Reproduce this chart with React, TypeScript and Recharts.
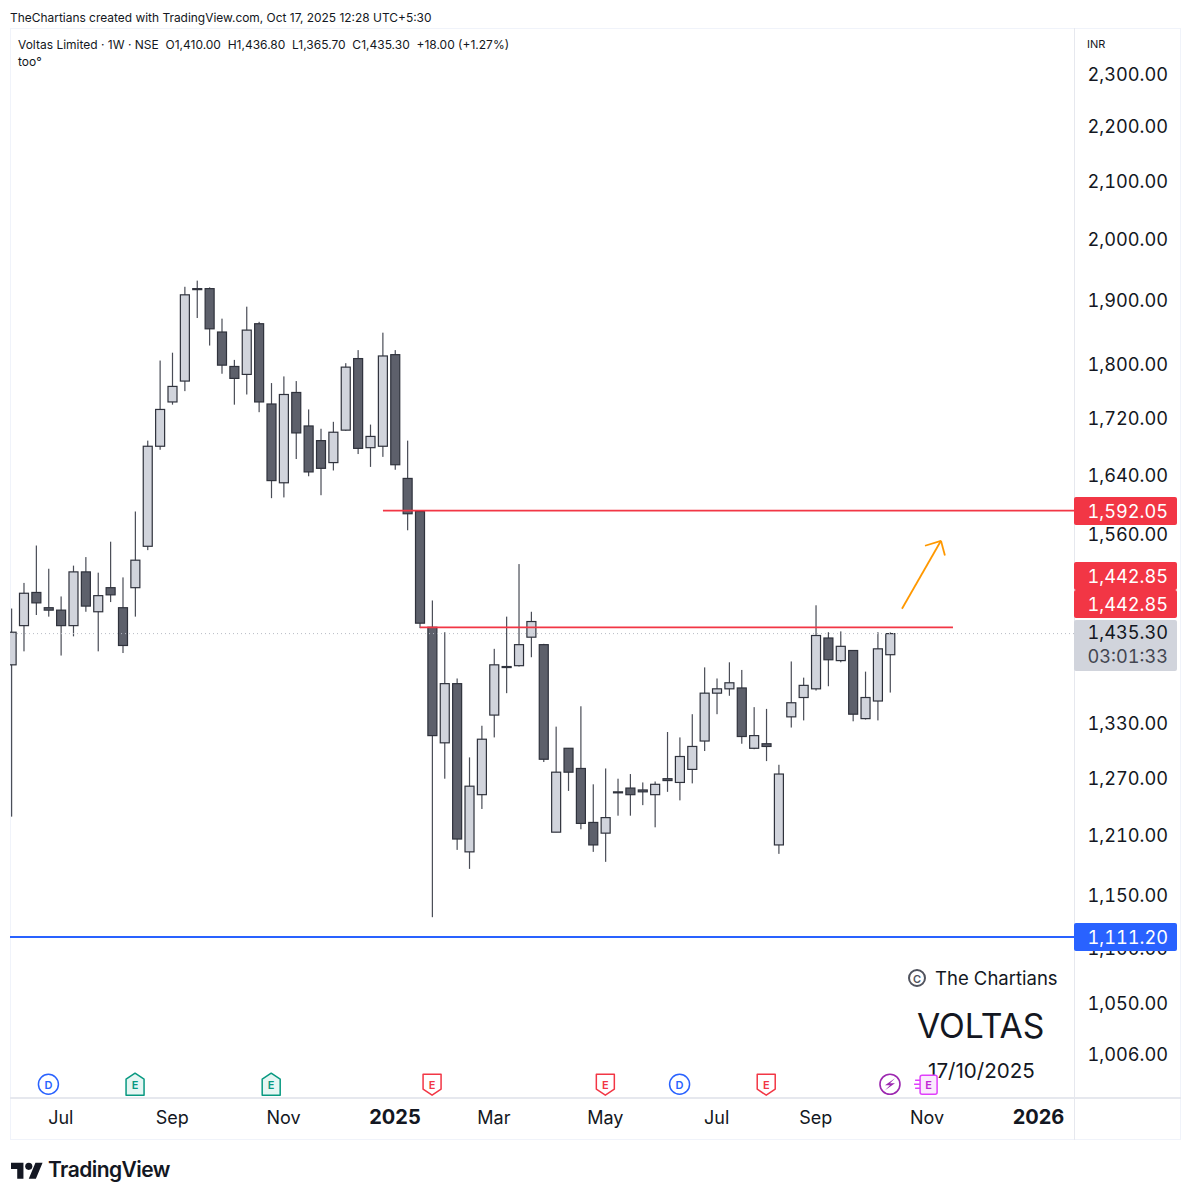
import { Bar, ComposedChart, ReferenceDot, ReferenceLine, XAxis, YAxis } from 'recharts'

// weekly OHLC, oldest first
const opens = [1398, 1445, 1486, 1467, 1464, 1445, 1512, 1462, 1492, 1467, 1492, 1545, 1681, 1745, 1776, 1919, 1920, 1851, 1798, 1786, 1864, 1742, 1630, 1759, 1710, 1689, 1658, 1704, 1810, 1679, 1681, 1816, 1636, 1591, 1443, 1309, 1376, 1194, 1253, 1340, 1396, 1397, 1431, 1422, 1214, 1303, 1281, 1224, 1213, 1255, 1260, 1258, 1253, 1270, 1266, 1280, 1311, 1365, 1370, 1371, 1303, 1308, 1201, 1338, 1360, 1370, 1430, 1403, 1415, 1336, 1356, 1410]
const highs = [1466, 1498, 1546, 1516, 1481, 1520, 1531, 1511, 1551, 1505, 1591, 1689, 1807, 1819, 1923, 1933, 1922, 1872, 1808, 1891, 1867, 1773, 1783, 1776, 1734, 1706, 1716, 1803, 1823, 1712, 1850, 1823, 1689, 1592, 1476, 1437, 1382, 1293, 1328, 1417, 1456, 1522, 1462, 1423, 1327, 1303, 1350, 1264, 1281, 1270, 1275, 1266, 1267, 1321, 1315, 1341, 1395, 1382, 1401, 1392, 1349, 1347, 1285, 1402, 1383, 1470, 1437, 1438, 1415, 1390, 1437, 1436.8]
const lows = [1230, 1414, 1458, 1456, 1409, 1432, 1462, 1414, 1474, 1412, 1456, 1540, 1676, 1741, 1761, 1873, 1830, 1787, 1741, 1756, 1730, 1609, 1610, 1663, 1639, 1613, 1647, 1703, 1670, 1652, 1666, 1648, 1566, 1442, 1130, 1270, 1196, 1177, 1238, 1315, 1365, 1396, 1407, 1288, 1214, 1257, 1217, 1194, 1184, 1231, 1231, 1242, 1219, 1256, 1247, 1265, 1300, 1341, 1362, 1308, 1302, 1289, 1192, 1326, 1334, 1368, 1373, 1401, 1333, 1335, 1334, 1365.7]
const closes = [1437, 1485, 1473, 1464, 1445, 1512, 1469, 1482, 1483, 1421, 1527, 1681, 1734, 1768, 1910, 1920, 1856, 1800, 1780, 1854, 1745, 1633, 1756, 1700, 1645, 1650, 1701, 1797, 1678, 1695, 1814, 1655, 1588, 1448, 1317, 1376, 1207, 1262, 1313, 1398, 1395, 1422, 1450, 1291, 1277, 1277, 1223, 1201, 1229, 1256, 1253, 1256, 1264, 1268, 1294, 1305, 1365, 1370, 1377, 1316, 1317, 1305, 1275, 1354, 1374, 1433, 1404, 1420, 1341, 1360, 1417, 1435.3]

const priceTicks = [2300, 2200, 2100, 2000, 1900, 1800, 1720, 1640, 1560, 1330, 1270, 1210, 1150, 1100, 1050, 1006]
const timeTicks = [4, 13, 22, 31, 39, 48, 57, 65, 74, 83]
const timeLabels = ['Jul', 'Sep', 'Nov', '2025', 'Mar', 'May', 'Jul', 'Sep', 'Nov', '2026']

const eventBars = [3, 10, 21, 34, 48, 54, 61, 71, 74]
const eventKinds = ['div', 'earnGood', 'earnGood', 'earnBad', 'earnBad', 'div', 'earnBad', 'flash', 'earnNext']

const arrowLegs = [
  [71.97, 1465.7, 75.12, 1552.2],
  [73.83, 1545.7, 75.12, 1552.2],
  [75.44, 1533.1, 75.12, 1552.2],
]

const candles = opens.map((open, i) => ({
  bar: i,
  open,
  close: closes[i],
  wick: [lows[i], highs[i]],
  body: [Math.min(open, closes[i]), Math.max(open, closes[i])],
}))

const FONT = 'Inter, "Noto Sans", sans-serif'
const TABULAR = { fontVariantNumeric: 'tabular-nums' }
const SCALE_FONT = 18.2
const X_MAX = 85.87

const WickShape = (props: any) => {
  const { x, y, width, height } = props
  return <rect x={x + width / 2 - 0.6} y={y} width={1.2} height={height} fill="#4a4d57" />
}

const BodyShape = (props: any) => {
  const { x, y, width, height, payload } = props
  const up = payload.close >= payload.open
  return (
    <rect
      x={x}
      y={y}
      width={width}
      height={Math.max(height, 1)}
      fill={up ? '#d1d4dc' : '#5d606b'}
      stroke="#2f323c"
      strokeWidth={1.2}
    />
  )
}

const PriceTick = (props: any) => (
  <text
    x={1168}
    y={props.y - 1}
    textAnchor="end"
    dominantBaseline="central"
    fontFamily={FONT}
    fontSize={SCALE_FONT}
    fill="#131722"
    style={TABULAR}
  >
    {props.payload.value.toLocaleString('en-US', { minimumFractionDigits: 2 })}
  </text>
)

const TimeTick = (props: any) => {
  const label = timeLabels[timeTicks.indexOf(props.payload.value)]
  const isYear = label.length === 4
  return (
    <text
      x={props.x}
      y={1117}
      textAnchor="middle"
      dominantBaseline="central"
      fontFamily={FONT}
      fontSize={isYear ? 20 : 18}
      fontWeight={isYear ? 700 : 400}
      fill="#131722"
    >
      {label}
    </text>
  )
}

const EventBadge = ({ cx, cy, kind }: any) => {
  const letter = (text: string, color: string) => (
    <text x={cx} y={cy + 0.5} textAnchor="middle" dominantBaseline="central" fontFamily={FONT} fontSize={11} fontWeight={600} fill={color}>
      {text}
    </text>
  )
  if (kind === 'div') {
    return (
      <g>
        <circle cx={cx} cy={cy} r={10} fill="#fff" stroke="#2962ff" strokeWidth={1.5} />
        {letter('D', '#2962ff')}
      </g>
    )
  }
  if (kind === 'flash') {
    return (
      <g>
        <circle cx={cx} cy={cy} r={10} fill="#fff" stroke="#9c27b0" strokeWidth={1.6} />
        <path d={`M${cx + 5} ${cy - 6} L${cx - 5} ${cy + 1} H${cx} L${cx - 5} ${cy + 6} L${cx + 5} ${cy - 1} H${cx} Z`} fill="#9c27b0" />
      </g>
    )
  }
  if (kind === 'earnGood') {
    const d = `M${cx - 9} ${cy + 11} V${cy - 5} L${cx} ${cy - 11} L${cx + 9} ${cy - 5} V${cy + 11} Z`
    return (
      <g>
        <path d={d} fill="#e6f6f3" stroke="#089981" strokeWidth={1.5} strokeLinejoin="round" />
        {letter('E', '#089981')}
      </g>
    )
  }
  if (kind === 'earnBad') {
    const d = `M${cx - 9} ${cy - 10} H${cx + 9} V${cy + 5} L${cx} ${cy + 11} L${cx - 9} ${cy + 5} Z`
    return (
      <g>
        <path d={d} fill="#fff" stroke="#f23645" strokeWidth={1.5} strokeLinejoin="round" />
        {letter('E', '#f23645')}
      </g>
    )
  }
  return (
    <g>
      <rect x={cx - 7} y={cy - 9} width={17} height={19} rx={2} fill="#fbeafd" stroke="#e040fb" strokeWidth={1.5} />
      <path d={`M${cx - 12} ${cy - 4} H${cx - 7} M${cx - 13} ${cy} H${cx - 7} M${cx - 12} ${cy + 4} H${cx - 7}`} stroke="#e040fb" strokeWidth={1.5} />
      <text x={cx + 1.5} y={cy + 0.5} textAnchor="middle" dominantBaseline="central" fontFamily={FONT} fontSize={11} fontWeight={600} fill="#c026d3">
        E
      </text>
    </g>
  )
}

const place = (left: number, top: number, extra: any = {}): any => ({
  position: 'absolute',
  left,
  top,
  whiteSpace: 'nowrap',
  ...extra,
})

const PriceBadge = ({ top, height, color, text }: any) => (
  <div
    style={place(1074, top, {
      width: 103,
      height,
      background: color,
      color: '#fff',
      borderRadius: 2,
      fontSize: SCALE_FONT,
      lineHeight: `${height}px`,
      textAlign: 'right',
      paddingRight: 9,
      boxSizing: 'border-box',
      ...TABULAR,
    })}
  >
    {text}
  </div>
)

export default function App() {
  return (
    <div style={place(0, 0, { width: 1191, height: 1200, background: '#fff', fontFamily: FONT, color: '#131722', overflow: 'hidden' })}>
      <div style={place(10, 10, { fontSize: 11.95, lineHeight: '15px' })}>
        TheChartians created with TradingView.com, Oct 17, 2025 12:28 UTC+5:30
      </div>

      {/* frame */}
      <div style={place(10, 28, { width: 1171, height: 1112, border: '1px solid #f0f3fa', boxSizing: 'border-box' })} />
      <div style={place(1074, 28, { width: 1, height: 1112, background: '#e6e8ee' })} />
      <div style={place(10, 1097, { width: 1171, height: 2, background: '#e6e8ee' })} />

      {/* watermark sits under the candles and badges */}
      <svg width={22} height={22} style={place(906, 967)}>
        <circle cx={11} cy={11} r={8} fill="none" stroke="#50535e" strokeWidth={2} />
        <text x={11} y={11.5} textAnchor="middle" dominantBaseline="central" fontFamily={FONT} fontSize={11} fontWeight={600} fill="#50535e">
          C
        </text>
      </svg>
      <div style={place(935, 965, { fontSize: 18.5, lineHeight: '26px' })}>The Chartians</div>
      <div style={place(917, 1004, { fontSize: 33.7, lineHeight: '44px' })}>VOLTAS</div>
      <div style={place(928, 1058, { fontSize: 20.6, lineHeight: '26px' })}>17/10/2025</div>

      <div style={place(0, 0)}>
        <ComposedChart
          width={1191}
          height={1200}
          data={candles}
          margin={{ top: 28, right: 10, bottom: 60, left: 10 }}
          barSize={9}
          barGap={-9}
        >
          <XAxis
            dataKey="bar"
            type="number"
            domain={[-0.105, X_MAX]}
            allowDataOverflow
            ticks={timeTicks}
            interval={0}
            tick={TimeTick}
            tickLine={false}
            axisLine={false}
            height={43}
          />
          <YAxis
            orientation="right"
            scale="log"
            domain={[971, 2392]}
            allowDataOverflow
            ticks={priceTicks}
            interval={0}
            tick={PriceTick}
            tickLine={false}
            axisLine={false}
            width={107}
          />
          <ReferenceLine y={1435.3} stroke="#b8bbc4" strokeWidth={1} strokeDasharray="1 3" />
          <Bar dataKey="wick" shape={WickShape} isAnimationActive={false} />
          <Bar dataKey="body" shape={BodyShape} isAnimationActive={false} />
          <ReferenceLine
            segment={[
              { x: 30.03, y: 1592.05 },
              { x: X_MAX, y: 1592.05 },
            ]}
            stroke="#f23645"
            strokeWidth={1.8}
          />
          <ReferenceLine
            segment={[
              { x: 33.02, y: 1442.85 },
              { x: 76.09, y: 1442.85 },
            ]}
            stroke="#f23645"
            strokeWidth={1.8}
          />
          <ReferenceLine y={1111.2} stroke="#2962ff" strokeWidth={2} />
          {arrowLegs.map((leg, i) => (
            <ReferenceLine
              key={i}
              segment={[
                { x: leg[0], y: leg[1] },
                { x: leg[2], y: leg[3] },
              ]}
              stroke="#ff9800"
              strokeWidth={1.8}
            />
          ))}
          {eventBars.map((bar, i) => (
            <ReferenceDot
              key={i}
              x={bar}
              y={981.5}
              r={10}
              shape={(p: any) => <EventBadge cx={p.cx} cy={p.cy} kind={eventKinds[i]} />}
            />
          ))}
        </ComposedChart>
      </div>

      {/* legend */}
      <div style={place(18, 37, { fontSize: 12, lineHeight: '15px' })}>
        Voltas Limited · 1W · NSE&nbsp; O1,410.00&nbsp; H1,436.80&nbsp; L1,365.70&nbsp; C1,435.30&nbsp; +18.00 (+1.27%)
      </div>
      <div style={place(18, 54, { fontSize: 12, lineHeight: '15px' })}>too°</div>
      <div style={place(1087, 37, { fontSize: 11, lineHeight: '15px' })}>INR</div>

      {/* last-value labels on the price scale */}
      <PriceBadge top={497} height={28} color="#f23645" text="1,592.05" />
      <PriceBadge top={562} height={28} color="#f23645" text="1,442.85" />
      <PriceBadge top={590} height={28} color="#f23645" text="1,442.85" />
      <PriceBadge top={923} height={28} color="#2962ff" text="1,111.20" />
      <div
        style={place(1074, 620, {
          width: 103,
          height: 51,
          background: '#d1d4dc',
          borderRadius: 2,
          fontSize: SCALE_FONT,
          lineHeight: '24px',
          textAlign: 'right',
          paddingRight: 9,
          boxSizing: 'border-box',
          ...TABULAR,
        })}
      >
        1,435.30
        <br />
        <span style={{ color: '#434651' }}>03:01:33</span>
      </div>

      {/* footer logo */}
      <svg width={32} height={20} viewBox="0 0 36 22" style={place(11, 1159)}>
        <path d="M14 22H7V11H0V4h14v18zM28 22h-8l7.5-18h8L28 22z" fill="#131722" />
        <circle cx={20} cy={8} r={4} fill="#131722" />
      </svg>
      <div style={place(48, 1157, { fontSize: 21, fontWeight: 600, lineHeight: '26px', letterSpacing: -0.55 })}>TradingView</div>
    </div>
  )
}
